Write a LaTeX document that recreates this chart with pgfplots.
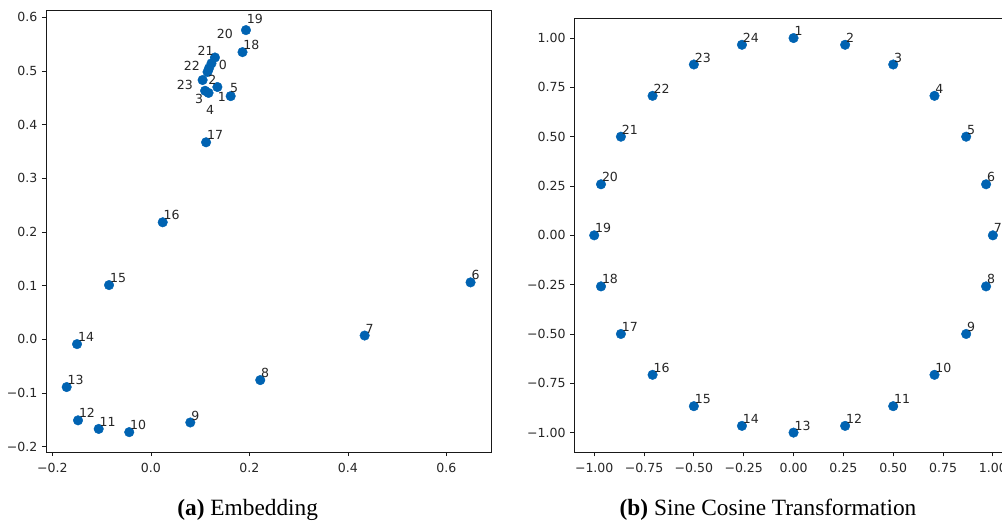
\documentclass[border=0pt]{standalone}
\usepackage{pgfplots}
\pgfplotsset{compat=1.18}
\usepackage{fontspec}
\setmainfont{Liberation Serif}
\newfontfamily\dejavu{DejaVu Sans}
\definecolor{dotblue}{RGB}{0,99,178}
\newcommand{\lblfont}{\dejavu\fontsize{9.4}{11}\selectfont}

\pgfplotsset{
  every axis/.append style={
    scale only axis, clip=false,
    axis line style={line width=0.7pt, black!90},
    tick style={black!90, line width=0.6pt},
    tick align=outside, major tick length=3pt,
    xtick pos=bottom, ytick pos=left,
    tick label style={font=\lblfont, text=black!85},
    xticklabel style={yshift=-1.5pt},
  },
  dots/.style={only marks, mark=*, mark size=3.6pt, color=dotblue,
    mark options={draw=dotblue, fill=dotblue, line width=0.3pt}},
  lab/.style={nodes near coords, point meta=explicit symbolic,
    every node near coord/.append style={font=\lblfont, text=black!85,
      anchor=base west, inner sep=0pt, xshift=0.6pt, yshift=1.8pt}},
  freelab/.style={draw=none, mark=none, nodes near coords, point meta=explicit symbolic,
    every node near coord/.append style={font=\lblfont, text=black!85,
      anchor=center, inner sep=0pt}},
}

\begin{document}
\begin{tikzpicture}

% (a) embedding
\begin{axis}[
    at={(34.5pt,51.75pt)}, anchor=south west,
    width=334.3pt, height=331.5pt,
    xmin=-0.213, xmax=0.692, ymin=-0.210, ymax=0.6135,
    xtick={-0.2,0,0.2,0.4,0.6},
    xticklabels={−0.2,0.0,0.2,0.4,0.6},
    ytick={-0.2,-0.1,0,0.1,0.2,0.3,0.4,0.5,0.6},
    yticklabels={−0.2,−0.1,0.0,0.1,0.2,0.3,0.4,0.5,0.6},
  ]
  % points with the label at the dot
  \addplot[dots, lab] table[meta=l] {
    x       y       l
    0.649   0.106   6
    0.434   0.007   7
    0.222  -0.076   8
    0.080  -0.155   9
   -0.044  -0.173   10
   -0.106  -0.167   11
   -0.148  -0.151   12
   -0.171  -0.089   13
   -0.150  -0.009   14
   -0.085   0.101   15
    0.024   0.218   16
    0.112   0.367   17
  };
  % crowded points near the top
  \addplot[dots] table {
    x       y
    0.186   0.535
    0.193   0.576
    0.130   0.525
    0.123   0.514
    0.118   0.505
    0.115   0.498
    0.105   0.483
    0.135   0.470
    0.110   0.463
    0.117   0.459
    0.162   0.453
  };
  % their labels, moved off the dots
  \addplot[freelab] table[meta=l] {
    x       y       l
    0.211   0.596   19
    0.150   0.569   20
    0.204   0.549   18
    0.111   0.538   21
    0.146   0.512   0
    0.083   0.509   22
    0.125   0.484   2
    0.069   0.474   23
    0.169   0.469   5
    0.098   0.448   3
    0.144   0.451   1
    0.120   0.428   4
  };
\end{axis}

% (b) sine cosine transformation
\begin{axis}[
    at={(430.7pt,51.5pt)}, anchor=south west,
    width=328.9pt, height=325.5pt,
    xmin=-1.1, xmax=1.1, ymin=-1.1, ymax=1.1,
    xtick={-1,-0.75,-0.5,-0.25,0,0.25,0.5,0.75,1},
    xticklabels={−1.00,−0.75,−0.50,−0.25,0.00,0.25,0.50,0.75,1.00},
    ytick={-1,-0.75,-0.5,-0.25,0,0.25,0.5,0.75,1},
    yticklabels={−1.00,−0.75,−0.50,−0.25,0.00,0.25,0.50,0.75,1.00},
  ]
  \addplot[dots, lab] table[meta=l] {
    x        y        l
    0.0000   1.0000   1
    0.2588   0.9659   2
    0.5000   0.8660   3
    0.7071   0.7071   4
    0.8660   0.5000   5
    0.9659   0.2588   6
    1.0000   0.0000   7
    0.9659  -0.2588   8
    0.8660  -0.5000   9
    0.7071  -0.7071   10
    0.5000  -0.8660   11
    0.2588  -0.9659   12
    0.0000  -1.0000   13
   -0.2588  -0.9659   14
   -0.5000  -0.8660   15
   -0.7071  -0.7071   16
   -0.8660  -0.5000   17
   -0.9659  -0.2588   18
   -1.0000   0.0000   19
   -0.9659   0.2588   20
   -0.8660   0.5000   21
   -0.7071   0.7071   22
   -0.5000   0.8660   23
   -0.2588   0.9659   24
  };
\end{axis}

% captions
\node[anchor=base, font=\fontsize{17.5}{20}\selectfont] at (185.8pt,4.5pt) {\textbf{(a)} Embedding};
\node[anchor=base, font=\fontsize{17.5}{20}\selectfont] at (576pt,4.5pt) {\textbf{(b)} Sine Cosine Transformation};

\pgfresetboundingbox
\useasboundingbox (0,0) rectangle (751.5pt,390.75pt);
\end{tikzpicture}
\end{document}
